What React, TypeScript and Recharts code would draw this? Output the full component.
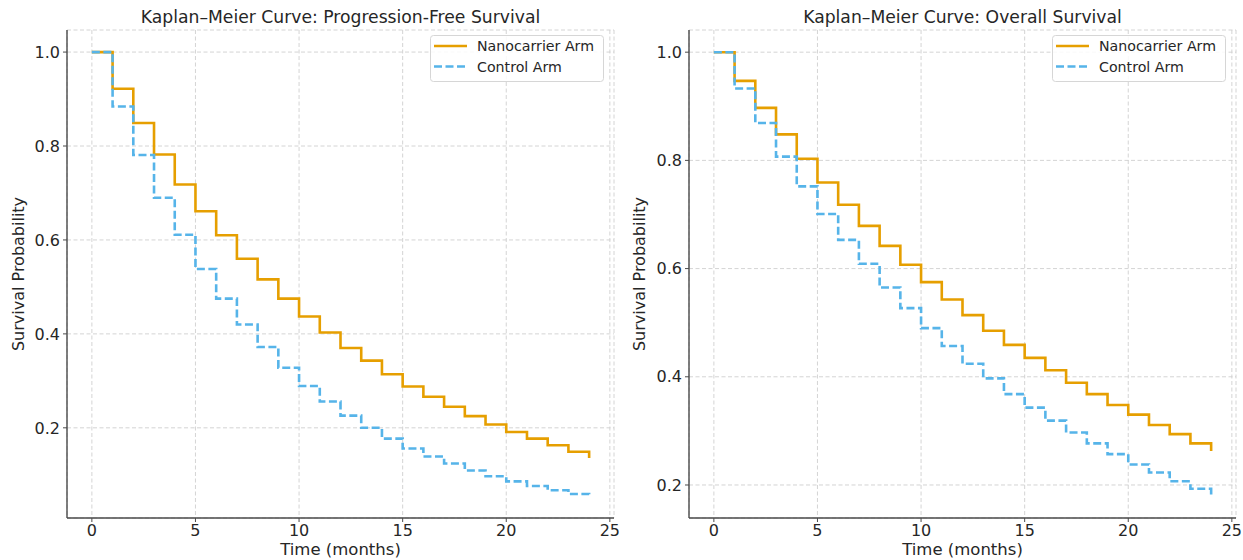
import React from "react";
import { LineChart, Line, XAxis, YAxis, CartesianGrid } from "recharts";

const months = [0, 1, 2, 3, 4, 5, 6, 7, 8, 9, 10, 11, 12, 13, 14, 15, 16, 17, 18, 19, 20, 21, 22, 23, 24];

const pfsNanocarrier = [1.0, 0.922, 0.849, 0.782, 0.718, 0.661, 0.61, 0.56, 0.516, 0.475, 0.437, 0.403, 0.37, 0.343, 0.314, 0.288, 0.266, 0.245, 0.225, 0.207, 0.191, 0.177, 0.163, 0.149, 0.136];
const pfsControl = [1.0, 0.884, 0.781, 0.69, 0.611, 0.538, 0.475, 0.42, 0.372, 0.328, 0.289, 0.256, 0.226, 0.2, 0.177, 0.156, 0.139, 0.124, 0.109, 0.097, 0.086, 0.076, 0.067, 0.059, 0.054];

const osNanocarrier = [1.0, 0.947, 0.897, 0.848, 0.803, 0.759, 0.718, 0.679, 0.642, 0.607, 0.575, 0.543, 0.514, 0.485, 0.459, 0.435, 0.412, 0.389, 0.368, 0.348, 0.33, 0.311, 0.294, 0.277, 0.263];
const osControl = [1.0, 0.933, 0.869, 0.807, 0.752, 0.701, 0.653, 0.609, 0.565, 0.527, 0.49, 0.457, 0.424, 0.397, 0.368, 0.343, 0.319, 0.297, 0.277, 0.257, 0.238, 0.223, 0.207, 0.193, 0.181];

const xTicks = [0, 5, 10, 15, 20, 25];
const yTicks = [0.2, 0.4, 0.6, 0.8, 1.0];

const seriesNames = ["Nanocarrier Arm", "Control Arm"];
const seriesColors = ["#E69F00", "#56B4E9"];

const FONT = "'DejaVu Sans', Verdana, sans-serif";
const TEXT = "#262626";
const SPINE = "#4a4a4a";

function build(a: number[], b: number[]) {
  return months.map((m, i) => ({ t: m, nano: a[i], ctrl: b[i] }));
}

const YLabel = (props: any) => {
  const vb = props.viewBox || { x: 0, y: 30, width: 67, height: 488 };
  const cx = vb.x + 18;
  const cy = vb.y + vb.height / 2;
  return (
    <text x={cx} y={cy} transform={`rotate(-90, ${cx}, ${cy})`} textAnchor="middle" dominantBaseline="central" fontFamily={FONT} fontSize={16} fill={TEXT}>
      Survival Probability
    </text>
  );
};

const XLabel = (props: any) => {
  const vb = props.viewBox || { x: 67, y: 518, width: 547, height: 42 };
  return (
    <text x={vb.x + vb.width / 2} y={555} textAnchor="middle" fontFamily={FONT} fontSize={16.5} fill={TEXT}>
      Time (months)
    </text>
  );
};

const LegendBox = (props: { x: number; y: number }) => (
  <g transform={`translate(${props.x}, ${props.y})`}>
    <rect x={0.5} y={0.5} width={173} height={46} rx={3} ry={3} fill="rgba(255,255,255,0.85)" stroke="#d6d6d6" strokeWidth={1} />
    {seriesNames.map((n, i) => (
      <g key={n}>
        <line x1={4} x2={37} y1={11 + i * 20.5} y2={11 + i * 20.5} stroke={seriesColors[i]} strokeWidth={2.6} strokeDasharray={i === 1 ? "8 3.5" : undefined} />
        <text x={47} y={11 + i * 20.5} dominantBaseline="central" fontFamily={FONT} fontSize={14.2} fill={TEXT}>
          {n}
        </text>
      </g>
    ))}
  </g>
);

function KMChart(props: { title: string; a: number[]; b: number[]; domain: [number, number]; width: number; leftW: number; legendLeft: number; legendTop: number }) {
  const data = build(props.a, props.b);
  const plotLeft = props.leftW;
  return (
    <LineChart width={props.width} height={560} data={data} margin={{ top: 30, right: props.width - plotLeft - 547, left: 0, bottom: 0 }}>
      <CartesianGrid stroke="#cfcfcf" strokeDasharray="4 2.5" strokeWidth={0.9} />
      <XAxis
        dataKey="t"
        type="number"
        domain={[-1.2, 25.2]}
        ticks={xTicks}
        allowDataOverflow
        height={42}
        tickSize={4}
        tickMargin={3}
        stroke={SPINE}
        strokeWidth={1.4}
        tickLine={{ stroke: SPINE, strokeWidth: 1 }}
        tick={{ fill: TEXT, fontSize: 16, fontFamily: FONT }}
        label={<XLabel />}
      />
      <YAxis
        type="number"
        domain={props.domain}
        ticks={yTicks}
        allowDataOverflow
        width={plotLeft}
        tickSize={4}
        tickMargin={3}
        stroke={SPINE}
        strokeWidth={1.4}
        tickLine={{ stroke: SPINE, strokeWidth: 1 }}
        tick={{ fill: TEXT, fontSize: 16, fontFamily: FONT }}
        tickFormatter={(v: number) => v.toFixed(1)}
        label={<YLabel />}
      />
      <Line type="stepAfter" dataKey="nano" name={seriesNames[0]} stroke={seriesColors[0]} strokeWidth={2.6} dot={false} activeDot={false} isAnimationActive={false} />
      <Line type="stepAfter" dataKey="ctrl" name={seriesNames[1]} stroke={seriesColors[1]} strokeWidth={2.6} strokeDasharray="8 3.5" dot={false} activeDot={false} isAnimationActive={false} />
      <LegendBox x={props.legendLeft} y={props.legendTop} />
      <text x={plotLeft + 547 / 2} y={23} textAnchor="middle" fontFamily={FONT} fontSize={17.2} fill={TEXT}>
        {props.title}
      </text>
    </LineChart>
  );
}

export default function App() {
  return (
    <div style={{ position: "absolute", left: 0, top: 0, width: 1243, height: 560, background: "#fff", fontFamily: FONT }}>
      <div style={{ position: "absolute", left: 0, top: 0 }}>
        <KMChart title="Kaplan–Meier Curve: Progression-Free Survival" a={pfsNanocarrier} b={pfsControl} domain={[0.008, 1.047]} width={621} leftW={67} legendLeft={430} legendTop={35} />
      </div>
      <div style={{ position: "absolute", left: 621, top: 0 }}>
        <KMChart title="Kaplan–Meier Curve: Overall Survival" a={osNanocarrier} b={osControl} domain={[0.139, 1.041]} width={622} leftW={68} legendLeft={431} legendTop={35} />
      </div>
    </div>
  );
}
